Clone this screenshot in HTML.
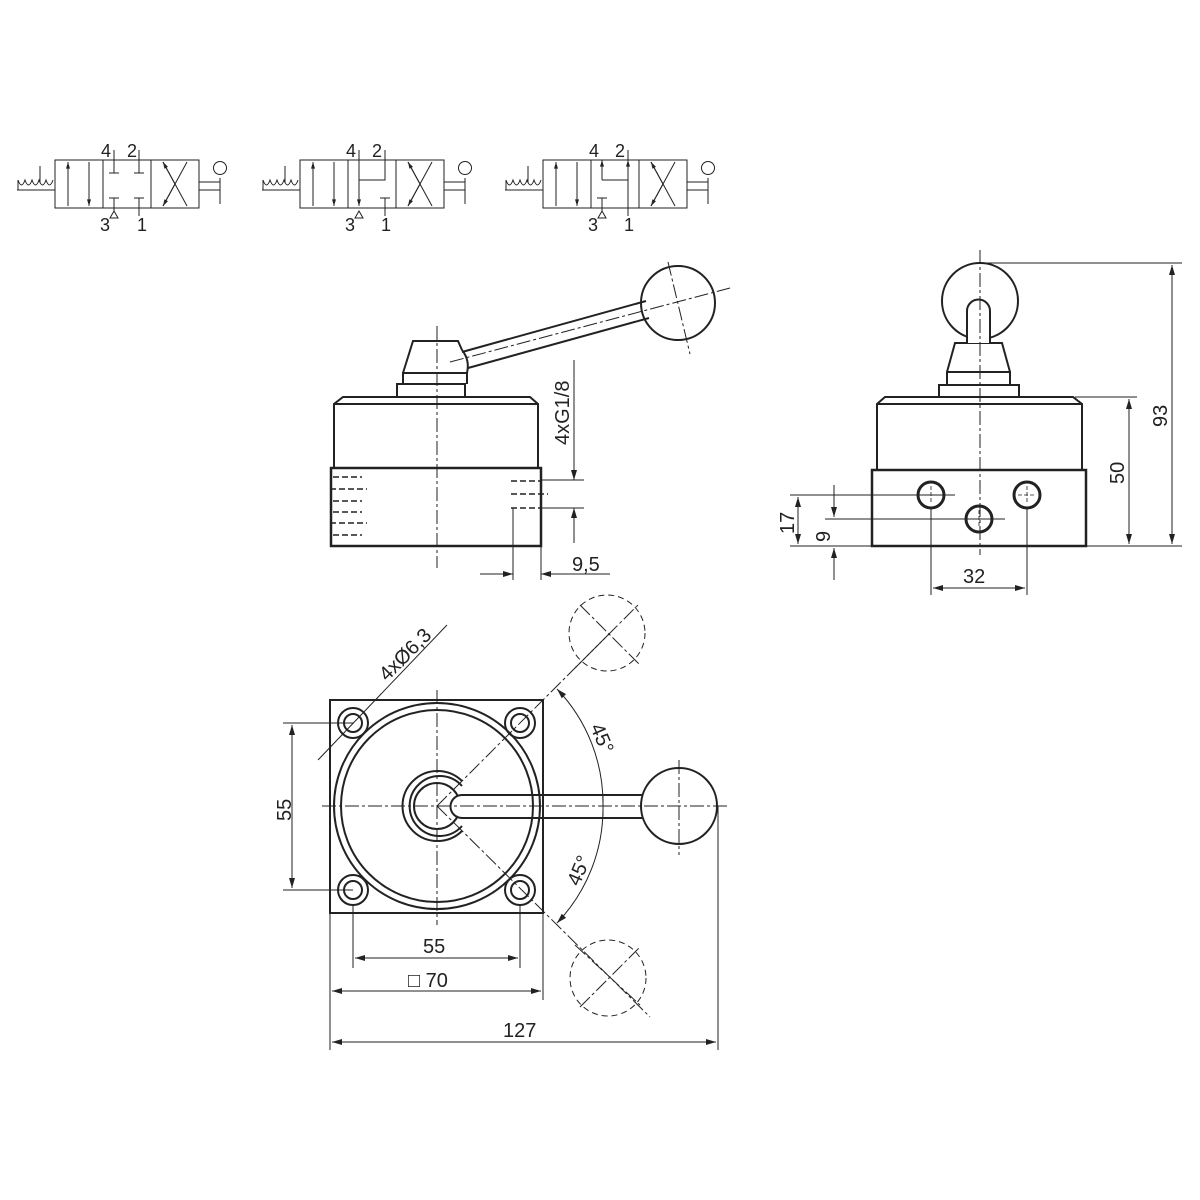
<!DOCTYPE html>
<html><head><meta charset="utf-8"><style>html,body{margin:0;padding:0;background:#fff}svg{display:block}</style></head>
<body>
<svg width="1200" height="1200" viewBox="0 0 1200 1200" xmlns="http://www.w3.org/2000/svg" font-family="Liberation Sans, sans-serif" fill="none" stroke="#222" stroke-width="1">
<defs>
<marker id="a" viewBox="0 0 10 6" refX="10" refY="3" markerWidth="12" markerHeight="6" orient="auto-start-reverse" markerUnits="userSpaceOnUse"><path d="M0,0 L10,3 L0,6 Z" fill="#222" stroke="none"/></marker>
<marker id="s" viewBox="0 0 10 6" refX="10" refY="3" markerWidth="7" markerHeight="4" orient="auto-start-reverse" markerUnits="userSpaceOnUse"><path d="M0,0 L10,3 L0,6 Z" fill="#222" stroke="none"/></marker>
<g id="base">
<path d="M17,190 H55 M18,180 q3.5,10 7,0 q3.5,10 7,0 q3.5,10 7,0 q3.5,10 7,0 q3.5,10 7,0 M18,180 V190 M40,166 V183"/>
<rect x="55" y="160" width="144" height="48"/>
<path d="M103,160 V208 M151,160 V208"/>
<path d="M68,206 V162" marker-end="url(#s)"/><path d="M89,162 V206" marker-end="url(#s)"/>
<path d="M163,162 L187,206 M187,162 L163,206"/>
<path d="M175,184 L163,162" marker-end="url(#s)"/><path d="M175,184 L163,206" marker-end="url(#s)"/>
<path d="M199,182 H220 M199,190 H220 M220,178 V204"/>
<circle cx="220" cy="168" r="6.5"/>
<path d="M110,218 h8 l-4,-7 z"/>
</g>
</defs>
<use href="#base"/>
<path d="M114,150 V173 M109,173 H119 M139,150 V173 M134,173 H144 M114,198 V212 M109,198 H119 M139,198 V216 M134,198 H144"/>
<use href="#base" transform="translate(245,0)"/>
<path d="M359,150 V206" marker-end="url(#s)"/>
<path d="M385,150 V180 H359 M380,198 H390 M385,198 V216"/>
<use href="#base" transform="translate(488,0)"/>
<path d="M602,180 V160" marker-end="url(#s)"/>
<path d="M602,180 H628 M628,216 V150"/>
<path d="M628,170 V160" marker-end="url(#s)"/>
<path d="M597,198 H607 M602,198 V212"/>
<g fill="#222" stroke="none" font-size="18">
<text x="101" y="157">4</text><text x="127" y="157">2</text><text x="100" y="231">3</text><text x="137" y="231">1</text>
<text x="346" y="157">4</text><text x="372" y="157">2</text><text x="345" y="231">3</text><text x="381" y="231">1</text>
<text x="589" y="157">4</text><text x="615" y="157">2</text><text x="588" y="231">3</text><text x="624" y="231">1</text>
</g>

<!-- FRONT VIEW -->
<g stroke-width="2">
<rect x="331" y="468" width="210" height="78" stroke-width="2.5"/>
<path d="M334,468 V404 L343,397 H530 L538,404 V468"/>
<path d="M334,404 H538"/>
<path d="M397,397 V384 H465 V397"/>
<path d="M403,384 V373 H467 V384 M403,373 L413,341 H458 L462,350"/>
<path d="M403,373 H467"/>
<path d="M462,352 L646,301 M468,368 L649,318"/>
<circle cx="678" cy="303" r="37"/>
</g>
<path d="M462,350 Q470,360 467,373" stroke-width="2"/>
<g stroke-dasharray="14,3,3,3">
<path d="M437,326 V568"/>
<path d="M450,362 L730,288"/>
<path d="M668,262 L690,354"/>
</g>
<g stroke-dasharray="6,3" stroke-width="1.5">
<path d="M333,477 H362 M330,489 H367 M333,501 H362 M333,512 H362 M330,523 H367 M333,535 H362"/>
<path d="M511,481 H541 M511,494 H548 M511,508 H541"/>
</g>
<path d="M541,480 H584 M541,508 H584"/>
<path d="M574,360 V480" marker-end="url(#a)"/>
<path d="M574,543 V508" marker-end="url(#a)"/>
<path d="M513,508 V580 M541,546 V580"/>
<path d="M480,574 H513" marker-end="url(#a)"/>
<path d="M610,574 H541" marker-end="url(#a)"/>
<g fill="#222" stroke="none" font-size="20">
<text transform="translate(569,445) rotate(-90)">4xG1/8</text>
<text x="572" y="571">9,5</text>
</g>

<!-- SIDE VIEW -->
<g stroke-width="2">
<rect x="872" y="470" width="214" height="76" stroke-width="2.5"/>
<path d="M877,470 V404 L885,397 H1073 L1082,404 V470"/>
<path d="M877,404 H1082"/>
<path d="M939,397 V385 H1019 V397"/>
<path d="M947,385 V372 H1010 V385 M947,372 L955,343 H1002 L1010,372"/>
<circle cx="980" cy="301" r="38"/>
<path d="M967,343 V311 A11.5,11.5 0 0 1 990,311 V343" fill="#fff"/>
<circle cx="931" cy="495" r="13" stroke-width="3"/>
<circle cx="1027" cy="495" r="13" stroke-width="3"/>
<circle cx="979" cy="519" r="13" stroke-width="3"/>
</g>
<path d="M980,250 V555" stroke-dasharray="14,3,3,3"/>
<g stroke-dasharray="4,2" stroke-width="0.8">
<path d="M922,495 H940 M931,486 V504 M1018,495 H1036 M1027,486 V504 M970,519 H988 M979,510 V528"/>
</g>
<path d="M985,263 H1182 M1086,546 H1182 M1075,397 H1137"/>
<path d="M1172,405 V265" marker-end="url(#a)"/><path d="M1172,405 V544" marker-end="url(#a)"/>
<path d="M1129,470 V399" marker-end="url(#a)"/><path d="M1129,470 V544" marker-end="url(#a)"/>
<path d="M790,495 H955 M790,546 H872 M825,519 H1005"/>
<path d="M798,520 V497" marker-end="url(#a)"/><path d="M798,520 V544" marker-end="url(#a)"/>
<path d="M834,485 V517" marker-end="url(#a)"/><path d="M834,580 V548" marker-end="url(#a)"/>
<path d="M931,508 V595 M1027,508 V595"/>
<path d="M979,588 H933" marker-end="url(#a)"/><path d="M979,588 H1025" marker-end="url(#a)"/>
<g fill="#222" stroke="none" font-size="20">
<text transform="translate(1167,427) rotate(-90)">93</text>
<text transform="translate(1124,484) rotate(-90)">50</text>
<text transform="translate(794,534) rotate(-90)">17</text>
<text transform="translate(830,542) rotate(-90)">9</text>
<text x="963" y="583">32</text>
</g>

<!-- TOP VIEW -->
<g stroke-width="2">
<rect x="330" y="700" width="213" height="213"/>
<circle cx="437" cy="806" r="103"/>
<circle cx="437" cy="806" r="96"/>
<circle cx="353" cy="723" r="15"/><circle cx="353" cy="723" r="9"/>
<circle cx="520" cy="723" r="15"/><circle cx="520" cy="723" r="9"/>
<circle cx="353" cy="890" r="15"/><circle cx="353" cy="890" r="9"/>
<circle cx="520" cy="890" r="15"/><circle cx="520" cy="890" r="9"/>
<path d="M462,781 A35,35 0 1 0 462,831"/>
<path d="M462,786 A30,30 0 1 0 462,826"/>
<circle cx="437" cy="806" r="23"/>
<path d="M462,795 H643 M462,818 H643 M462,795 A11.5,11.5 0 0 0 462,818" fill="#fff"/>
<circle cx="679" cy="806" r="38" fill="#fff"/>
</g>
<g stroke-dasharray="14,3,3,3">
<path d="M322,806 H727"/>
<path d="M437,690 V925"/>
<path d="M679,760 V855"/>
<path d="M437,806 L610,633 M437,806 L650,1017"/>
<path d="M580,605 L640,665 M575,668 L640,603 M580,1007 L640,947 M575,945 L640,1005"/>
</g>
<circle cx="607" cy="633" r="38" stroke-dasharray="6,4"/>
<circle cx="608" cy="978" r="38" stroke-dasharray="6,4"/>
<path d="M318,760 L447,625"/>
<path d="M292,806 V725" marker-end="url(#a)"/><path d="M292,806 V888" marker-end="url(#a)"/>
<path d="M283,723 H353 M283,890 H353"/>
<path d="M353,905 V968 M520,905 V968 M330,913 V1050 M543,913 V1000 M718,806 V1050"/>
<path d="M437,958 H355" marker-end="url(#a)"/><path d="M437,958 H518" marker-end="url(#a)"/>
<path d="M437,991 H332" marker-end="url(#a)"/><path d="M437,991 H541" marker-end="url(#a)"/>
<path d="M524,1042 H332" marker-end="url(#a)"/><path d="M524,1042 H716" marker-end="url(#a)"/>
<path d="M603,806 A166,166 0 0 0 557,689" marker-end="url(#a)"/>
<path d="M603,806 A166,166 0 0 1 557,923" marker-end="url(#a)"/>
<path d="M603,796 V816"/>
<g fill="#222" stroke="none" font-size="20">
<text transform="translate(387,682) rotate(-45)">4xØ6,3</text>
<text transform="translate(291,821) rotate(-90)">55</text>
<text transform="translate(590,727) rotate(67)">45°</text>
<text transform="translate(579,887) rotate(-67)">45°</text>
<text x="423" y="953">55</text>
<text x="408" y="987">□ 70</text>
<text x="503" y="1037">127</text>
</g>
</svg>
</body></html>
